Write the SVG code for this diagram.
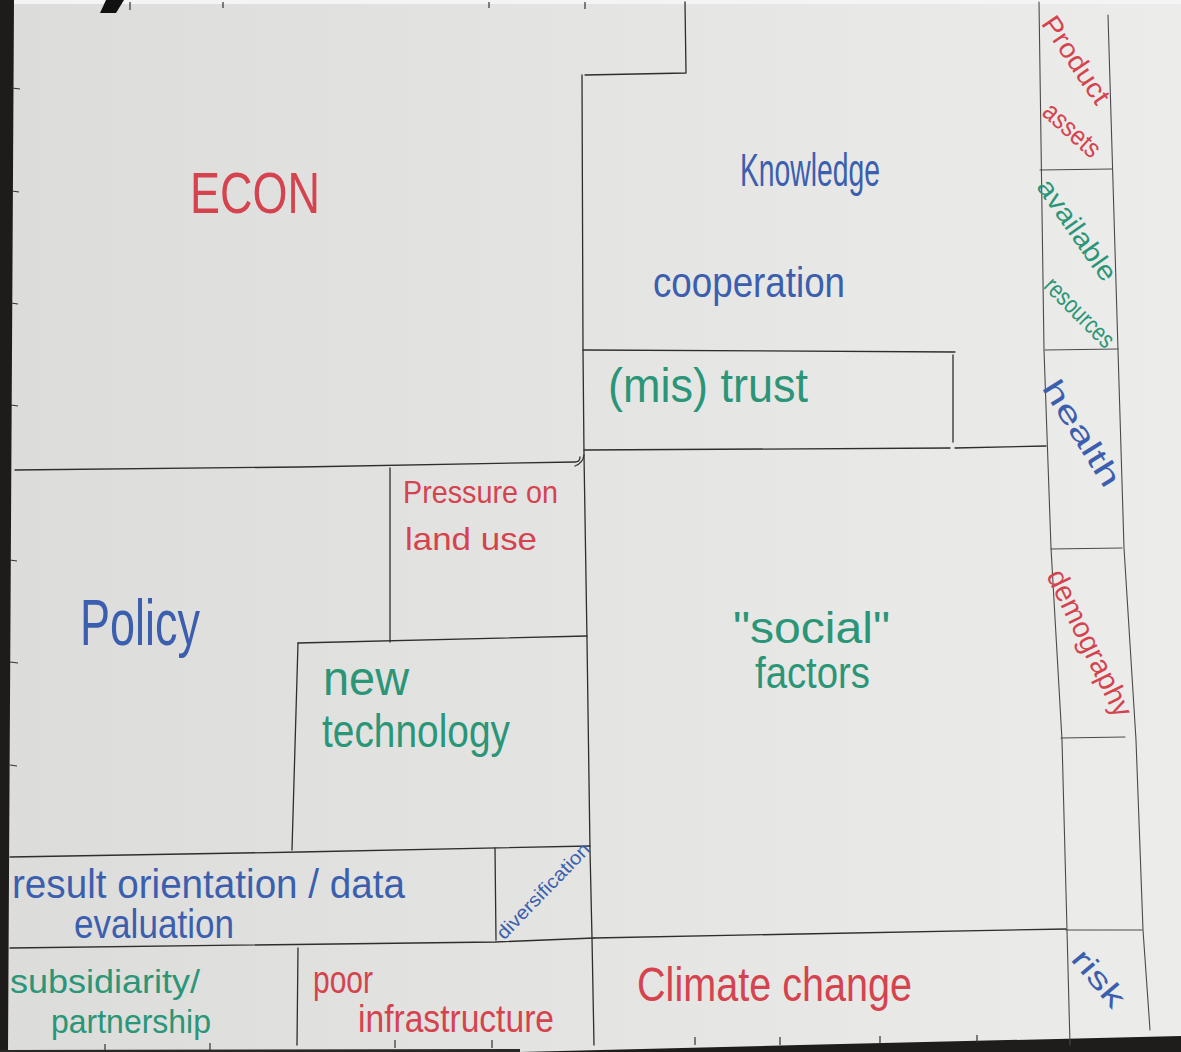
<svg xmlns="http://www.w3.org/2000/svg" width="1181" height="1052" viewBox="0 0 1181 1052">
<defs>
<linearGradient id="paper" x1="0" y1="0" x2="1" y2="0">
<stop offset="0" stop-color="#dcdcdb"/>
<stop offset="0.5" stop-color="#e4e4e3"/>
<stop offset="1" stop-color="#ececeb"/>
</linearGradient>
<style>
.ln{stroke:#2e2e2e;stroke-width:1.3;fill:none;stroke-linecap:round;stroke-linejoin:round}
.lg{stroke:#4a4a4a;stroke-width:1.1;fill:none;stroke-linecap:round}
.tk{stroke:#333;stroke-width:1.2;fill:none}
text{font-family:"Liberation Sans","DejaVu Sans",sans-serif}
.r{fill:#d5434f}
.b{fill:#3b5fae}
.g{fill:#2a9677}
</style>
</defs>
<rect x="0" y="0" width="1181" height="1052" fill="url(#paper)"/>
<rect x="0" y="0" width="1181" height="4" fill="#f4f4f4"/>
<polygon points="0,0 14,0 10,700 8,1052 0,1052" fill="#1e1c1b"/>
<polygon points="106,0 124,0 116,13 100,13" fill="#111"/>
<polygon points="520,1052 800,1045 1181,1036 1181,1052" fill="#1f1d1c"/>
<polygon points="0,1050 520,1049 520,1052 0,1052" fill="#2a2827"/>

<g id="ticks">
<path class="tk" d="M12,88 L20,89 M12,191 L19,192 M11,303 L18,304 M11,405 L18,406 M10,560 L17,561 M10,662 L18,663 M10,765 L17,766"/>
<path class="tk" d="M130,2 L130,10 M223,2 L223,8 M489,2 L489,8 M585,2 L585,9"/>
<path class="tk" d="M105,1044 L105,1050 M210,1043 L210,1050 M395,1040 L395,1048 M492,1040 L492,1048 M695,1037 L695,1045 M780,1037 L780,1045 M880,1036 L880,1044 M977,1035 L977,1043"/>
</g>

<g id="connectors">
<path class="ln" d="M15,470 L300,467 L575,462 Q580,462 580,457"/>
<path class="ln" d="M582,75 L583,350 L584,455 Q583,463 575,466"/>
<path class="ln" d="M585,75 L686,73 L685,2"/>
<path class="ln" d="M583,350 L955,352"/>
<path class="ln" d="M953,355 L953,442"/>
<path class="ln" d="M584,450 L950,448"/>
<path class="ln" d="M955,448 L1046,446"/>
<path class="lg" d="M1039,2 L1044,350 L1051,548 L1062,740 L1067,930 L1070,1045"/>
<path class="lg" d="M1108,15 L1118,350 L1124,548 L1136,740 L1143,930 L1150,1030"/>
<path class="lg" d="M1040,170 L1112,169"/>
<path class="lg" d="M1045,350 L1118,349"/>
<path class="lg" d="M1051,549 L1122,548"/>
<path class="lg" d="M1061,738 L1125,737"/>
<path class="lg" d="M1066,930 L1142,930"/>
<path class="ln" d="M584,455 L587,640 L590,850 L592,938 L594,1045"/>
<path class="ln" d="M390,468 L390,642"/>
<path class="ln" d="M298,643 L587,636"/>
<path class="ln" d="M298,643 L292,850"/>
<path class="ln" d="M10,857 L300,852 L590,846"/>
<path class="ln" d="M495,848 L496,940"/>
<path class="ln" d="M10,948 L495,942 L594,938"/>
<path class="ln" d="M594,938 L800,934 L1066,929"/>
<path class="ln" d="M298,948 L297,1045"/>
</g>

<g id="econ"><text class="r" x="190" y="213" font-size="58" textLength="130" lengthAdjust="spacingAndGlyphs">ECON</text></g>
<g id="knowledge"><text class="b" x="740" y="186" font-size="46" textLength="140" lengthAdjust="spacingAndGlyphs">Knowledge</text></g>
<g id="cooperation"><text class="b" x="653" y="297" font-size="42" textLength="192" lengthAdjust="spacingAndGlyphs">cooperation</text></g>
<g id="mistrust"><text class="g" x="608" y="402" font-size="48" textLength="200" lengthAdjust="spacingAndGlyphs">(mis) trust</text></g>
<g id="pressure">
<text class="r" x="403" y="503" font-size="32" textLength="155" lengthAdjust="spacingAndGlyphs">Pressure on</text>
<text class="r" x="405" y="550" font-size="32" textLength="132" lengthAdjust="spacingAndGlyphs">land use</text>
</g>
<g id="policy"><text class="b" x="80" y="645" font-size="64" textLength="120" lengthAdjust="spacingAndGlyphs">Policy</text></g>
<g id="newtech">
<text class="g" x="323" y="695" font-size="48" textLength="86" lengthAdjust="spacingAndGlyphs">new</text>
<text class="g" x="322" y="747" font-size="46" textLength="188" lengthAdjust="spacingAndGlyphs">technology</text>
</g>
<g id="social">
<text class="g" x="733" y="643" font-size="44" textLength="157" lengthAdjust="spacingAndGlyphs">"social"</text>
<text class="g" x="755" y="688" font-size="44" textLength="115" lengthAdjust="spacingAndGlyphs">factors</text>
</g>
<g id="result">
<text class="b" x="12" y="898" font-size="40" textLength="393" lengthAdjust="spacingAndGlyphs">result orientation / data</text>
<text class="b" x="74" y="938" font-size="40" textLength="160" lengthAdjust="spacingAndGlyphs">evaluation</text>
</g>
<g id="diversification"><text class="b" font-size="19" text-anchor="middle" dominant-baseline="central" textLength="125" lengthAdjust="spacingAndGlyphs" transform="translate(543,891) rotate(-46)">diversification</text></g>
<g id="subsidiarity">
<text class="g" x="10" y="993" font-size="34" textLength="190" lengthAdjust="spacingAndGlyphs">subsidiarity/</text>
<text class="g" x="51" y="1033" font-size="34" textLength="160" lengthAdjust="spacingAndGlyphs">partnership</text>
</g>
<g id="infrastructure">
<text class="r" x="313" y="993" font-size="38" textLength="60" lengthAdjust="spacingAndGlyphs">poor</text>
<text class="r" x="358" y="1032" font-size="38" textLength="196" lengthAdjust="spacingAndGlyphs">infrastructure</text>
</g>
<g id="climate"><text class="r" x="637" y="1001" font-size="48" textLength="275" lengthAdjust="spacingAndGlyphs">Climate change</text></g>
<g id="product">
<text class="r" font-size="27" text-anchor="middle" dominant-baseline="central" textLength="100" lengthAdjust="spacingAndGlyphs" transform="translate(1076,60) rotate(56)">Product</text>
<text class="r" font-size="27" text-anchor="middle" dominant-baseline="central" textLength="68" lengthAdjust="spacingAndGlyphs" transform="translate(1072,130) rotate(42)">assets</text>
</g>
<g id="resources">
<text class="g" font-size="27" text-anchor="middle" dominant-baseline="central" textLength="118" lengthAdjust="spacingAndGlyphs" transform="translate(1077,230) rotate(55)">available</text>
<text class="g" font-size="25" text-anchor="middle" dominant-baseline="central" textLength="88" lengthAdjust="spacingAndGlyphs" transform="translate(1080,312) rotate(45)">resources</text>
</g>
<g id="health"><text class="b" font-size="30" text-anchor="middle" dominant-baseline="central" textLength="120" lengthAdjust="spacingAndGlyphs" transform="translate(1082,433) rotate(58)">health</text></g>
<g id="demography"><text class="r" font-size="29" text-anchor="middle" dominant-baseline="central" textLength="160" lengthAdjust="spacingAndGlyphs" transform="translate(1090,643) rotate(64)">demography</text></g>
<g id="risk"><text class="b" font-size="30" text-anchor="middle" dominant-baseline="central" textLength="66" lengthAdjust="spacingAndGlyphs" transform="translate(1099,978) rotate(50)">risk</text></g>
</svg>
